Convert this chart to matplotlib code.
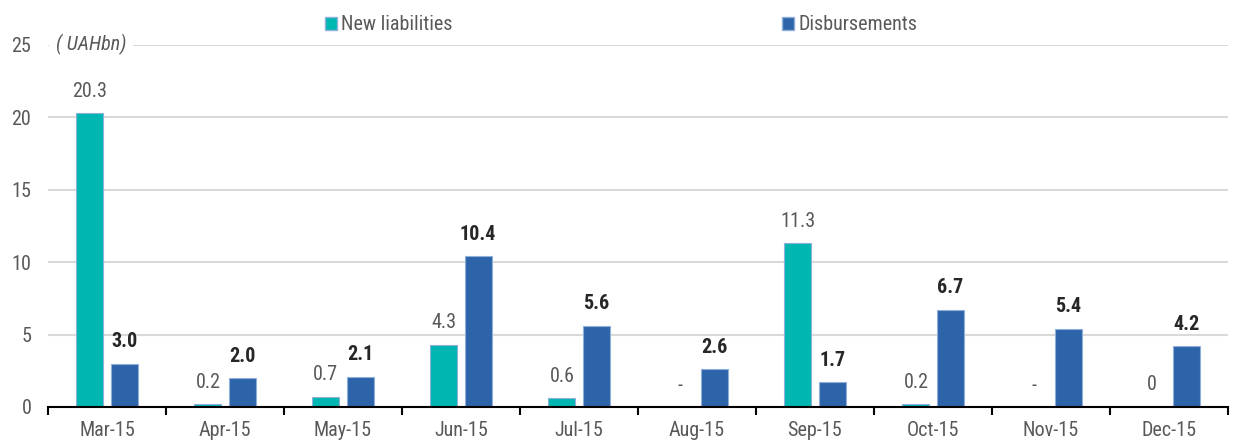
import matplotlib
matplotlib.use("Agg")
import matplotlib.pyplot as plt
import numpy as np
from matplotlib.patches import Patch
from matplotlib import font_manager

months = ["Mar-15", "Apr-15", "May-15", "Jun-15", "Jul-15", "Aug-15",
          "Sep-15", "Oct-15", "Nov-15", "Dec-15"]
new_liabilities = [20.3, 0.2, 0.7, 4.3, 0.6, None, 11.3, 0.2, None, 0.0]
new_labels = ["20.3", "0.2", "0.7", "4.3", "0.6", "-", "11.3", "0.2", "-", "0"]
disbursements = [3.0, 2.0, 2.1, 10.4, 5.6, 2.6, 1.7, 6.7, 5.4, 4.2]
disb_labels = ["3.0", "2.0", "2.1", "10.4", "5.6", "2.6", "1.7", "6.7", "5.4", "4.2"]
yticks = [0, 5, 10, 15, 20, 25]

fonts = font_manager.fontManager.ttflist
names = {f.name for f in fonts}
stretch = "normal"
fam = None
for cand in ["Roboto Condensed", "Liberation Sans Narrow", "Open Sans Condensed",
             "Arial Narrow", "Noto Sans Condensed"]:
    if cand in names:
        fam = cand
        break
if fam is None:
    cond = [f for f in fonts if f.name in ("Roboto", "Noto Sans", "Open Sans", "DejaVu Sans")
            and str(f.stretch) in ("condensed", "semi-condensed", "75", "87")]
    if cond:
        fam = cond[0].name
        stretch = cond[0].stretch
if fam is None:
    fam = "Roboto" if "Roboto" in names else "Liberation Sans"
plt.rcParams['font.family'] = [fam, 'DejaVu Sans']
plt.rcParams['font.stretch'] = stretch

FS = 14.5
teal = "#00B6B1"
blue = "#2D63A8"
edge = "#8FB0DA"
gray_txt = "#595959"

fig = plt.figure(figsize=(12.39, 4.41), dpi=100)
ax = fig.add_axes([48/1239, 1 - 407/441, 1180/1239, (407-45)/441])

x = np.arange(len(months))
w = 0.23
off = 0.145
nl = [np.nan if v is None else v for v in new_liabilities]
ax.bar(x - off, nl, w, color=teal, edgecolor=edge, linewidth=0.8, zorder=3)
ax.bar(x + off, disbursements, w, color=blue, edgecolor=edge, linewidth=0.8, zorder=3)

for i in range(len(months)):
    v = nl[i]
    h = 0 if np.isnan(v) else v
    ax.annotate(new_labels[i], (x[i] - off, h), xytext=(0, 9), textcoords="offset points",
                ha="center", va="bottom", fontsize=FS, color=gray_txt)
    ax.annotate(disb_labels[i], (x[i] + off, disbursements[i]), xytext=(0, 9),
                textcoords="offset points", ha="center", va="bottom", fontsize=FS,
                color="#262626", fontweight="bold")

ax.set_xlim(-0.5, len(months) - 0.5)
ax.set_ylim(0, 25)
ax.set_yticks(yticks)
ax.set_yticklabels([str(t) for t in yticks], color=gray_txt, fontsize=FS)
ax.tick_params(axis='y', length=0, pad=12)
ax.set_xticks(x)
ax.set_xticklabels(months, color=gray_txt, fontsize=FS)
ax.set_xticks(np.arange(len(months) + 1) - 0.5, minor=True)
ax.tick_params(axis='x', which='major', length=0, pad=10)
ax.tick_params(axis='x', which='minor', length=6, width=1.5, color="black")
ax.grid(axis='y', color="#D9D9D9", linewidth=1.5, zorder=0)
for s in ["top", "right", "left"]:
    ax.spines[s].set_visible(False)
ax.spines["bottom"].set_color("black")
ax.spines["bottom"].set_linewidth(1.5)
ax.spines["bottom"].set_zorder(4)

ax.text(56/1239, 1 - 44/441, "( UAHbn)", transform=fig.transFigure, ha="left", va="center",
        fontsize=FS, style="italic", color=gray_txt,
        bbox=dict(facecolor="white", edgecolor="none", pad=5), zorder=5)

h1 = Patch(facecolor=teal, edgecolor=edge, label="New liabilities")
h2 = Patch(facecolor=blue, edgecolor=edge, label="Disbursements")
leg_kw = dict(frameon=False, fontsize=FS, handlelength=0.6, handleheight=0.6,
              handletextpad=0.2, labelcolor=gray_txt, loc="center left")
fig.legend(handles=[h1], bbox_to_anchor=(307/1239, 1 - 25/441), **leg_kw)
fig.legend(handles=[h2], bbox_to_anchor=(764/1239, 1 - 25/441), **leg_kw)

fig.savefig("out.png", dpi=100)
